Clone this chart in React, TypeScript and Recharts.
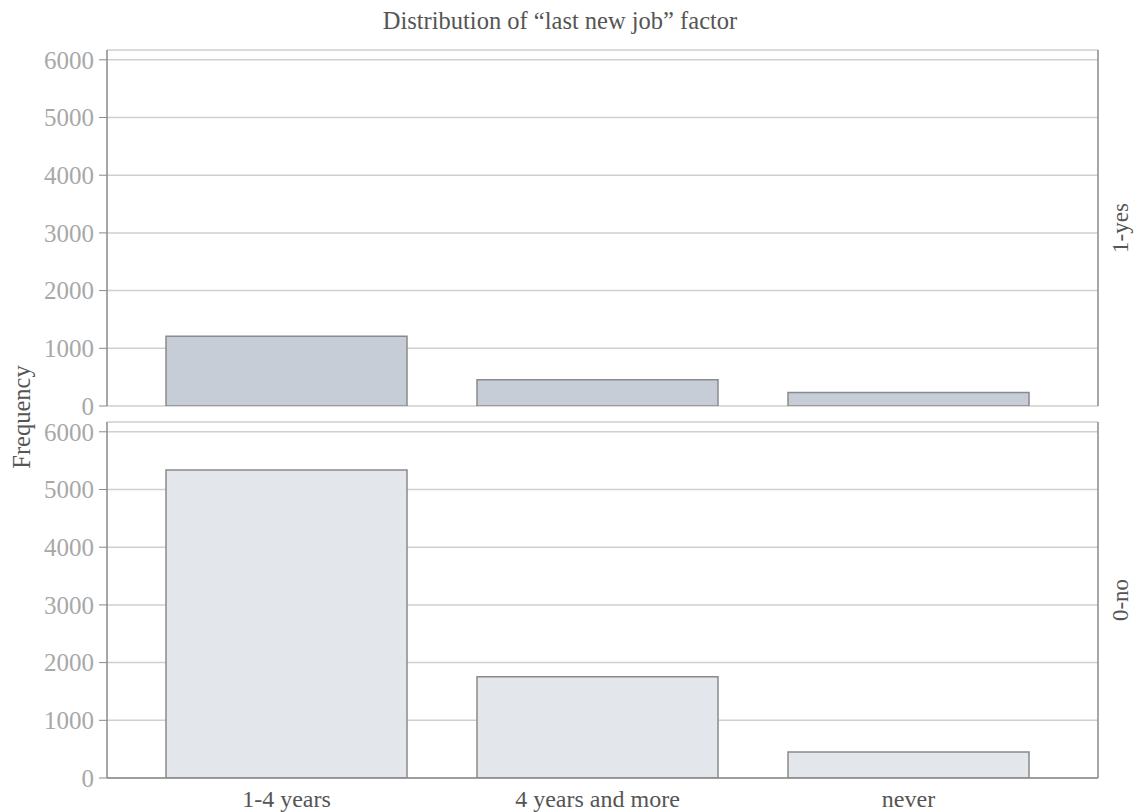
import { BarChart, Bar, XAxis, YAxis, CartesianGrid, Label } from "recharts";

const categories = ["1-4 years", "4 years and more", "never"];
const yesCounts = [1210, 455, 235];
const noCounts = [5340, 1755, 450];
const yTicks = [0, 1000, 2000, 3000, 4000, 5000, 6000];

const FONT = "'Liberation Serif', 'Times New Roman', serif";
const FRAME = "#8a8a8a";
const GRID = "#cfcfcf";

const yesData = categories.map((cat, i) => ({ cat, count: yesCounts[i] }));
const noData = categories.map((cat, i) => ({ cat, count: noCounts[i] }));

function Panel({
  data,
  fill,
  strip,
  height,
  margin,
  showLabels,
}: {
  data: { cat: string; count: number }[];
  fill: string;
  strip: string;
  height: number;
  margin: { top: number; right: number; bottom: number; left: number };
  showLabels: boolean;
}) {
  return (
    <BarChart width={1135} height={height} data={data} margin={margin}>
      <CartesianGrid vertical={false} stroke={GRID} strokeWidth={1.5} />
      <XAxis
        dataKey="cat"
        padding={{ left: 24, right: 34 }}
        tick={showLabels ? { fontSize: 24, fill: "#555", fontFamily: FONT } : false}
        tickLine={false}
        axisLine={{ stroke: FRAME, strokeWidth: 1.5 }}
        height={showLabels ? 34 : 0}
        tickMargin={6}
        interval={0}
      />
      <XAxis
        xAxisId="top"
        dataKey="cat"
        orientation="top"
        tick={false}
        tickLine={false}
        height={0}
        axisLine={{ stroke: FRAME, strokeWidth: 1.5 }}
      />
      <YAxis
        domain={[0, 6170]}
        ticks={yTicks}
        interval={0}
        width={107}
        tickSize={8}
        tickMargin={5}
        tick={{ fontSize: 25, fill: "#a8a8a8", fontFamily: FONT }}
        tickLine={{ stroke: FRAME }}
        axisLine={{ stroke: FRAME, strokeWidth: 1.5 }}
        allowDataOverflow
      />
      <YAxis
        yAxisId="right"
        orientation="right"
        width={37}
        tick={false}
        tickLine={false}
        axisLine={{ stroke: FRAME, strokeWidth: 1.5 }}
      >
        <Label
          value={strip}
          angle={-90}
          position="center"
          dx={3}
          style={{ fontSize: 23, fill: "#555", fontFamily: FONT }}
        />
      </YAxis>
      <Bar
        dataKey="count"
        fill={fill}
        stroke={FRAME}
        strokeWidth={1.5}
        barSize={241}
        isAnimationActive={false}
      />
    </BarChart>
  );
}

export default function App() {
  return (
    <div
      style={{
        position: "absolute",
        left: 0,
        top: 0,
        width: 1135,
        height: 812,
        background: "#fff",
        fontFamily: FONT,
      }}
    >
      <div
        style={{
          position: "absolute",
          left: 0,
          top: 7,
          width: 1120,
          textAlign: "center",
          fontSize: 24.5,
          color: "#555",
        }}
      >
        Distribution of “last new job” factor
      </div>
      <div
        style={{
          position: "absolute",
          left: 22,
          top: 417,
          transform: "translate(-50%, -50%) rotate(-90deg)",
          fontSize: 24.5,
          color: "#555",
          whiteSpace: "nowrap",
        }}
      >
        Frequency
      </div>
      <div style={{ position: "absolute", left: 0, top: 0 }}>
        <Panel
          data={yesData}
          fill="#c6cdd7"
          strip="1-yes"
          height={420}
          margin={{ top: 50, right: 0, bottom: 14, left: 0 }}
          showLabels={false}
        />
      </div>
      <div style={{ position: "absolute", left: 0, top: 408 }}>
        <Panel
          data={noData}
          fill="#e3e6eb"
          strip="0-no"
          height={404}
          margin={{ top: 14, right: 0, bottom: 0, left: 0 }}
          showLabels={true}
        />
      </div>
    </div>
  );
}
